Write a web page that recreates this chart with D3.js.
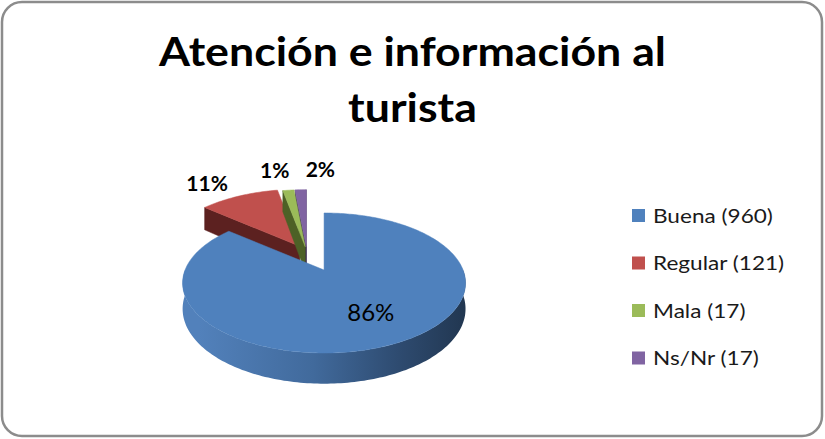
<!DOCTYPE html>
<html>
<head>
<meta charset="utf-8">
<script src="https://cdn.jsdelivr.net/npm/d3@7"></script>
<style>
  body { margin: 0; background: #fff; }
  svg { display: block; }
</style>
</head>
<body>
<div id="chart"></div>
<script>
/* DATA */
const categories = ["Buena", "Regular", "Mala", "Ns/Nr"];
const counts = [960, 121, 17, 17];
const pctLabels = ["86%", "11%", "1%", "2%"];
const titleLines = ["Atención e información al", "turista"];

/* STYLE */
const width = 825, height = 439;
const font = "Lato, 'Open Sans', sans-serif";
const topColors = ["#4F81BD", "#C0504D", "#9BBB59", "#8064A2"];
const sideColors = ["url(#blueSide)", "#5c2120", "#4d6126", "#3e2f55"];
const explode = [0.28, 0.1, 0.08, 0.08];      // fraction of radius
const labelR = [0.62, 1.3, 1.45, 1.45];
const labelAnchor = ["middle", "end", "end", "start"];
const labelDx = [6, 4, 7, 7];

// fake perspective for the 3d pie (unit radius plane -> screen)
const p3 = { cx: 306.8, cy: 252, a: 139, b: 67.6, k: 0.1856, depth: 25 };

function proj(u, v, z) {
  const s = 1 / (1 - p3.k * v);
  return [p3.cx + p3.a * u * s, p3.cy + p3.b * v * s + p3.depth * z * s];
}

// points on rim between two angles (d3 angles: clockwise from 12 o'clock)
function rim(a0, a1, z) {
  const n = Math.max(2, Math.ceil(Math.abs(a1 - a0) / 0.02));
  return d3.range(n + 1).map(i => {
    const a = a0 + (a1 - a0) * i / n;
    return proj(Math.sin(a), -Math.cos(a), z);
  });
}

const line = d3.line();
const closed = pts => line(pts) + "Z";

const svg = d3.select("#chart").append("svg")
  .attr("width", width)
  .attr("height", height);

const defs = svg.append("defs");
const grad = defs.append("linearGradient")
  .attr("id", "blueSide")
  .attr("gradientUnits", "userSpaceOnUse")
  .attr("x1", p3.cx - 125).attr("x2", p3.cx + 160)
  .attr("y1", 0).attr("y2", 0);
grad.selectAll("stop")
  .data([[0, "#5281bb"], [0.4, "#416a9c"], [0.7, "#2e4b70"], [1, "#1e3148"]])
  .join("stop")
  .attr("offset", d => d[0])
  .attr("stop-color", d => d[1]);

// chart frame
svg.append("rect")
  .attr("x", 2).attr("y", 2)
  .attr("width", width - 5).attr("height", height - 5)
  .attr("rx", 20)
  .attr("fill", "#fff")
  .attr("stroke", "#8c8c8c")
  .attr("stroke-width", 2.5);

// title
svg.append("text")
  .attr("text-anchor", "middle")
  .attr("font-family", font)
  .attr("font-weight", "bold")
  .attr("font-size", 41)
  .attr("fill", "#000")
  .selectAll("tspan")
  .data(titleLines)
  .join("tspan")
  .attr("x", width / 2)
  .attr("y", (d, i) => 66 + i * 56)
  .text(d => d);

svg.selectAll("tspan").each(function() {
  // stretch to the wider look of the original face
  const w = this.getComputedTextLength();
  d3.select(this).attr("textLength", w * 1.09).attr("lengthAdjust", "spacingAndGlyphs");
});

/* PIE */
const arcs = d3.pie().sort(null).value(d => d)(counts)
  .map((d, i) => {
    const mid = (d.startAngle + d.endAngle) / 2;
    const p = proj(explode[i] * Math.sin(mid), -explode[i] * Math.cos(mid), 0);
    return { ...d, i, mid, tx: p[0] - p3.cx, ty: p[1] - p3.cy };
  });

// painter's order: back slices first
const order = arcs.slice().sort((a, b) => a.ty - b.ty);

const pieG = svg.append("g");

order.forEach(d => {
  const g = pieG.append("g").attr("transform", `translate(${d.tx},${d.ty})`);
  const a0 = d.startAngle, a1 = d.endAngle;

  // radial cut faces
  const walls = [];
  if (Math.sin(a0) < 0) walls.push(a0);
  if (Math.sin(a1) > 0) walls.push(a1);
  walls.forEach(a => {
    const pts = [
      proj(0, 0, 0),
      proj(Math.sin(a), -Math.cos(a), 0),
      proj(Math.sin(a), -Math.cos(a), 1),
      proj(0, 0, 1)
    ];
    g.append("path")
      .attr("d", closed(pts))
      .attr("fill", sideColors[d.i])
      .attr("stroke", sideColors[d.i])
      .attr("stroke-width", 0.5);
  });

  // outer wall (front half only)
  const lo = Math.max(a0, Math.PI / 2), hi = Math.min(a1, Math.PI * 1.5);
  if (hi > lo) {
    const pts = rim(lo, hi, 0).concat(rim(hi, lo, 1));
    g.append("path")
      .attr("d", closed(pts))
      .attr("fill", sideColors[d.i]);
  }

  // top face
  const top = [proj(0, 0, 0)].concat(rim(a0, a1, 0));
  g.append("path")
    .attr("d", closed(top))
    .attr("fill", topColors[d.i])
    .attr("stroke", topColors[d.i])
    .attr("stroke-width", 0.5);
});

// percentage labels
svg.append("g")
  .attr("font-family", font)
  .selectAll("text")
  .data(arcs)
  .join("text")
  .each(function(d) {
    const r = labelR[d.i];
    const p = proj(r * Math.sin(d.mid), -r * Math.cos(d.mid), 0);
    d3.select(this).attr("x", p[0] + d.tx + labelDx[d.i]).attr("y", p[1] + d.ty);
  })
  .attr("dy", "0.36em")
  .attr("text-anchor", d => labelAnchor[d.i])
  .attr("font-weight", d => d.i === 0 ? "normal" : "bold")
  .attr("font-size", d => d.i === 0 ? 24 : 21)
  .attr("fill", "#000")
  .text(d => pctLabels[d.i]);

/* LEGEND */
const legend = svg.append("g")
  .attr("transform", "translate(632, 209)");

const item = legend.selectAll("g")
  .data(categories)
  .join("g")
  .attr("transform", (d, i) => `translate(0, ${i * 47.5})`);

item.append("rect")
  .attr("width", 13).attr("height", 13)
  .attr("fill", (d, i) => topColors[i]);

item.append("text")
  .attr("transform", "translate(21, 13.5) scale(1.13, 1)")
  .attr("font-family", font)
  .attr("font-size", 20)
  .attr("fill", "#1a1a1a")
  .text((d, i) => `${d} (${counts[i]})`);
</script>
</body>
</html>
